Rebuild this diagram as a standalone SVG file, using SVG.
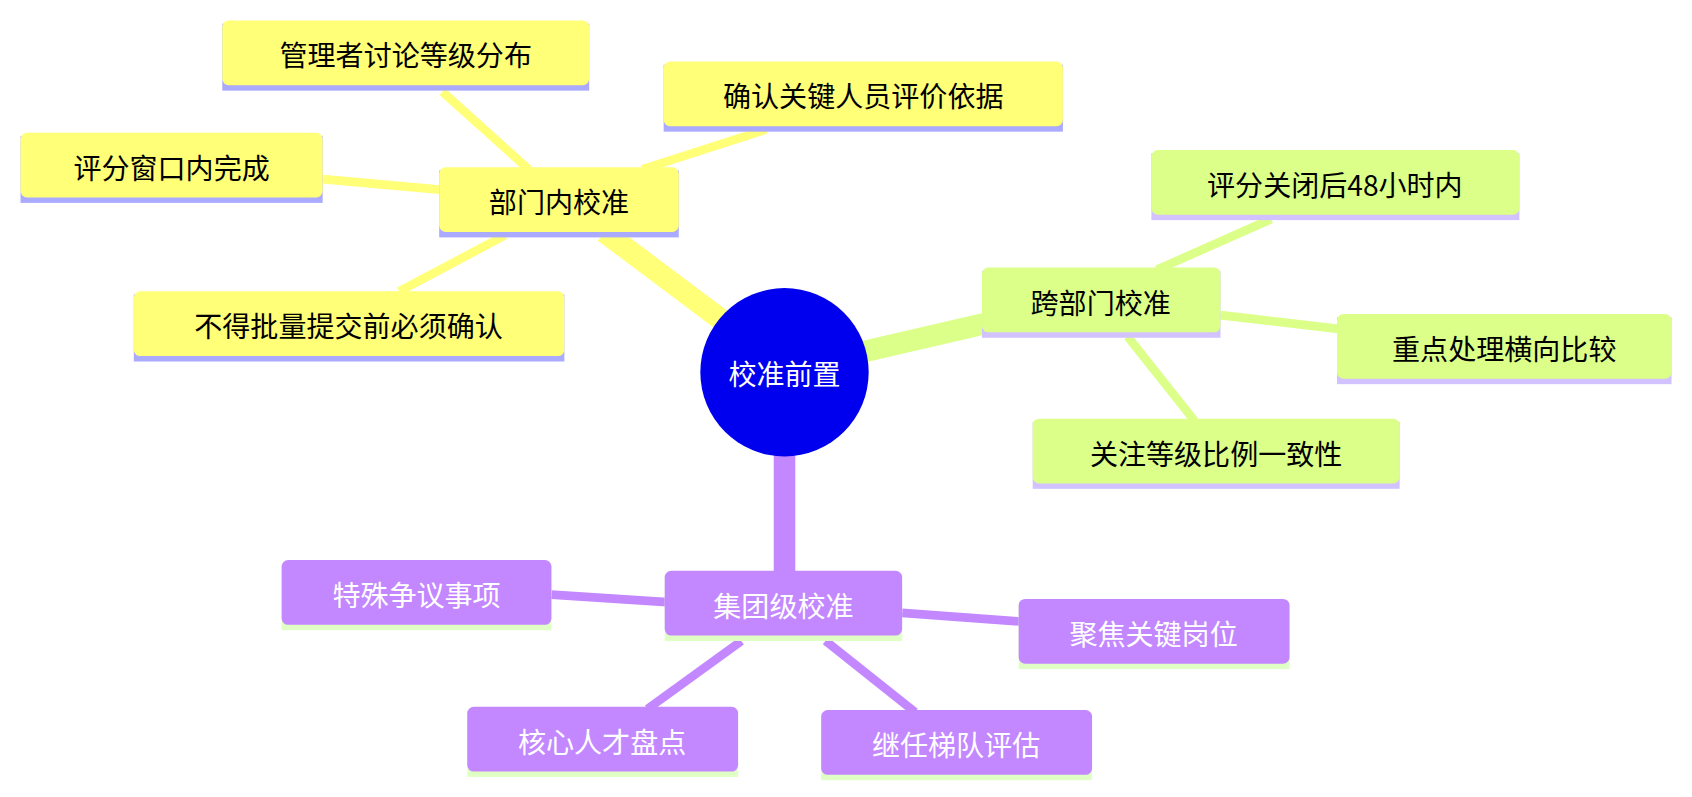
<svg xmlns="http://www.w3.org/2000/svg" width="1692" height="797" viewBox="0 0 1692 797">
<style>
text{font-family:"Noto Sans CJK SC","Liberation Sans",sans-serif;font-size:26px;text-anchor:middle;dominant-baseline:central}
.y rect.b{fill:#ffff78}.y rect.s{fill:#aaaaff}
.g rect.b{fill:#dbff88}.g rect.s{fill:#d2c2ff}
.p rect.b{fill:#c388ff}.p rect.s{fill:#e0ffc4}
.p text{fill:#fff}
</style>
<rect width="1692" height="797" fill="#fff"/>
<g transform="scale(1.0791)">
<g id="connectors" fill="none" stroke-linecap="butt">
<path d="M560,215 L668,296" stroke="#ffff78" stroke-width="20"/>
<path d="M800,326 L912,300" stroke="#dbff88" stroke-width="20"/>
<path d="M727,420 L727,531" stroke="#c388ff" stroke-width="20"/>
<g stroke="#ffff78" stroke-width="8">
<path d="M490,157 L410,85"/><path d="M595,157 L710,120"/>
<path d="M410,176 L299,166"/><path d="M468,218 L370,270"/>
</g>
<g stroke="#dbff88" stroke-width="8">
<path d="M1072,250 L1178,203"/><path d="M1131,292 L1242,305"/>
<path d="M1045,312 L1107,390"/>
</g>
<g stroke="#c388ff" stroke-width="8">
<path d="M618,558 L511,551"/><path d="M836,568 L946,576"/>
<path d="M687,594 L600,657"/><path d="M765,594 L848,660"/>
</g>
</g>
<g id="root"><circle cx="727" cy="345" r="78" fill="#0000ee"/><text x="727" y="345" fill="#fff">校准前置</text></g>
<g id="n1" class="y"><rect class="s" x="407" y="158" width="222" height="62"/><rect class="b" x="407" y="155" width="222" height="60" rx="6"/><text x="518" y="186">部门内校准</text></g>
<g id="n1a" class="y"><rect class="s" x="206" y="22" width="340" height="62"/><rect class="b" x="206" y="19" width="340" height="60" rx="6"/><text x="376" y="50">管理者讨论等级分布</text></g>
<g id="n1b" class="y"><rect class="s" x="615" y="60" width="370" height="62"/><rect class="b" x="615" y="57" width="370" height="60" rx="6"/><text x="800" y="88">确认关键人员评价依据</text></g>
<g id="n1c" class="y"><rect class="s" x="19" y="126" width="280" height="62"/><rect class="b" x="19" y="123" width="280" height="60" rx="6"/><text x="159" y="154">评分窗口内完成</text></g>
<g id="n1d" class="y"><rect class="s" x="124" y="273" width="399" height="62"/><rect class="b" x="124" y="270" width="399" height="60" rx="6"/><text x="323" y="301">不得批量提交前必须确认</text></g>
<g id="n2" class="g"><rect class="s" x="910" y="251" width="221" height="62"/><rect class="b" x="910" y="248" width="221" height="60" rx="6"/><text x="1020" y="279">跨部门校准</text></g>
<g id="n2a" class="g"><rect class="s" x="1067" y="142" width="341" height="62"/><rect class="b" x="1067" y="139" width="341" height="60" rx="6"/><text x="1237" y="170">评分关闭后48小时内</text></g>
<g id="n2b" class="g"><rect class="s" x="1239" y="294" width="310" height="62"/><rect class="b" x="1239" y="291" width="310" height="60" rx="6"/><text x="1394" y="322">重点处理横向比较</text></g>
<g id="n2c" class="g"><rect class="s" x="957" y="391" width="340" height="62"/><rect class="b" x="957" y="388" width="340" height="60" rx="6"/><text x="1127" y="419">关注等级比例一致性</text></g>
<g id="n3" class="p"><rect class="s" x="616" y="532" width="220" height="62"/><rect class="b" x="616" y="529" width="220" height="60" rx="6"/><text x="726" y="560">集团级校准</text></g>
<g id="n3a" class="p"><rect class="s" x="261" y="522" width="250" height="62"/><rect class="b" x="261" y="519" width="250" height="60" rx="6"/><text x="386" y="550">特殊争议事项</text></g>
<g id="n3b" class="p"><rect class="s" x="944" y="558" width="251" height="62"/><rect class="b" x="944" y="555" width="251" height="60" rx="6"/><text x="1069" y="586">聚焦关键岗位</text></g>
<g id="n3c" class="p"><rect class="s" x="433" y="658" width="251" height="62"/><rect class="b" x="433" y="655" width="251" height="60" rx="6"/><text x="558" y="686">核心人才盘点</text></g>
<g id="n3d" class="p"><rect class="s" x="761" y="661" width="251" height="62"/><rect class="b" x="761" y="658" width="251" height="60" rx="6"/><text x="886" y="689">继任梯队评估</text></g>
</g>
</svg>
